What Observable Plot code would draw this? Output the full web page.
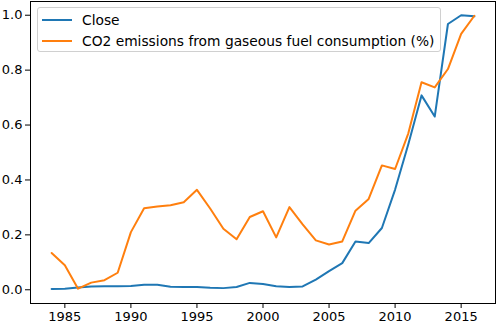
<!DOCTYPE html>
<html>
<head>
<meta charset="utf-8">
<script src="https://cdn.jsdelivr.net/npm/d3@7"></script>
<script src="https://cdn.jsdelivr.net/npm/@observablehq/plot@0.6"></script>
<style>
  html, body { margin: 0; padding: 0; background: #fff; }
  #wrap { position: relative; width: 496px; height: 326px; overflow: hidden; font-family: "DejaVu Sans", sans-serif; }
  #legend { position: absolute; left: 37px; top: 7px; width: 404px; height: 45px; box-sizing: border-box;
    border: 1px solid #d0d0d0; border-radius: 3px; background: rgba(255,255,255,0.85); font-size: 13.8px; color: #000; }
  .row { position: absolute; left: 4px; height: 16px; display: flex; align-items: center; white-space: nowrap; }
  .sw { width: 30px; height: 2px; margin-right: 10px; }
</style>
</head>
<body>
<div id="wrap">
  <div id="chart"></div>
  <div id="legend"></div>
</div>
<script>
const years = d3.range(1984, 2017);
const close = [0.003, 0.004, 0.008, 0.012, 0.013, 0.013, 0.014, 0.018, 0.018, 0.011, 0.010, 0.010, 0.007, 0.006, 0.010, 0.025, 0.021, 0.013, 0.010, 0.012, 0.037, 0.068, 0.097, 0.176, 0.170, 0.225, 0.365, 0.53, 0.708, 0.631, 0.968, 1.0, 0.996];
const co2 = [0.134, 0.089, 0.004, 0.026, 0.035, 0.062, 0.21, 0.297, 0.303, 0.308, 0.319, 0.364, 0.296, 0.222, 0.184, 0.265, 0.286, 0.191, 0.301, 0.238, 0.18, 0.165, 0.176, 0.288, 0.331, 0.453, 0.44, 0.57, 0.756, 0.737, 0.804, 0.932, 0.998];
const seriesNames = ["Close", "CO2 emissions from gaseous fuel consumption (%)"];
const seriesColors = ["#1f77b4", "#ff7f0e"];
const xTicks = [1985, 1990, 1995, 2000, 2005, 2010, 2015];
const yTicks = [0, 0.2, 0.4, 0.6, 0.8, 1.0];

const closeData = years.map((y, i) => ({year: y, value: close[i]}));
const co2Data = years.map((y, i) => ({year: y, value: co2[i]}));

const chart = Plot.plot({
  width: 496,
  height: 326,
  marginLeft: 30,
  marginRight: 1,
  marginTop: 1,
  marginBottom: 23,
  style: {fontFamily: "DejaVu Sans, sans-serif", fontSize: "13px", color: "#000", background: "#fff"},
  x: {domain: [1982.4, 2017.6], ticks: xTicks, tickFormat: d => String(d), tickSize: 5, tickPadding: 3, label: null},
  y: {domain: [-0.05, 1.05], ticks: yTicks, tickFormat: d3.format(".1f"), tickSize: 5, tickPadding: 3, label: null},
  marks: [
    Plot.line(closeData, {x: "year", y: "value", stroke: seriesColors[0], strokeWidth: 2}),
    Plot.line(co2Data, {x: "year", y: "value", stroke: seriesColors[1], strokeWidth: 2}),
    Plot.frame({stroke: "#000", strokeWidth: 1})
  ]
});
document.getElementById("chart").appendChild(chart);

const legend = document.getElementById("legend");
seriesNames.forEach((name, i) => {
  const row = document.createElement("div");
  row.className = "row";
  row.style.top = (i === 0 ? 4 : 25) + "px";
  const sw = document.createElement("div");
  sw.className = "sw";
  sw.style.background = seriesColors[i];
  const t = document.createElement("span");
  t.textContent = name;
  row.appendChild(sw);
  row.appendChild(t);
  legend.appendChild(row);
});
</script>
</body>
</html>
